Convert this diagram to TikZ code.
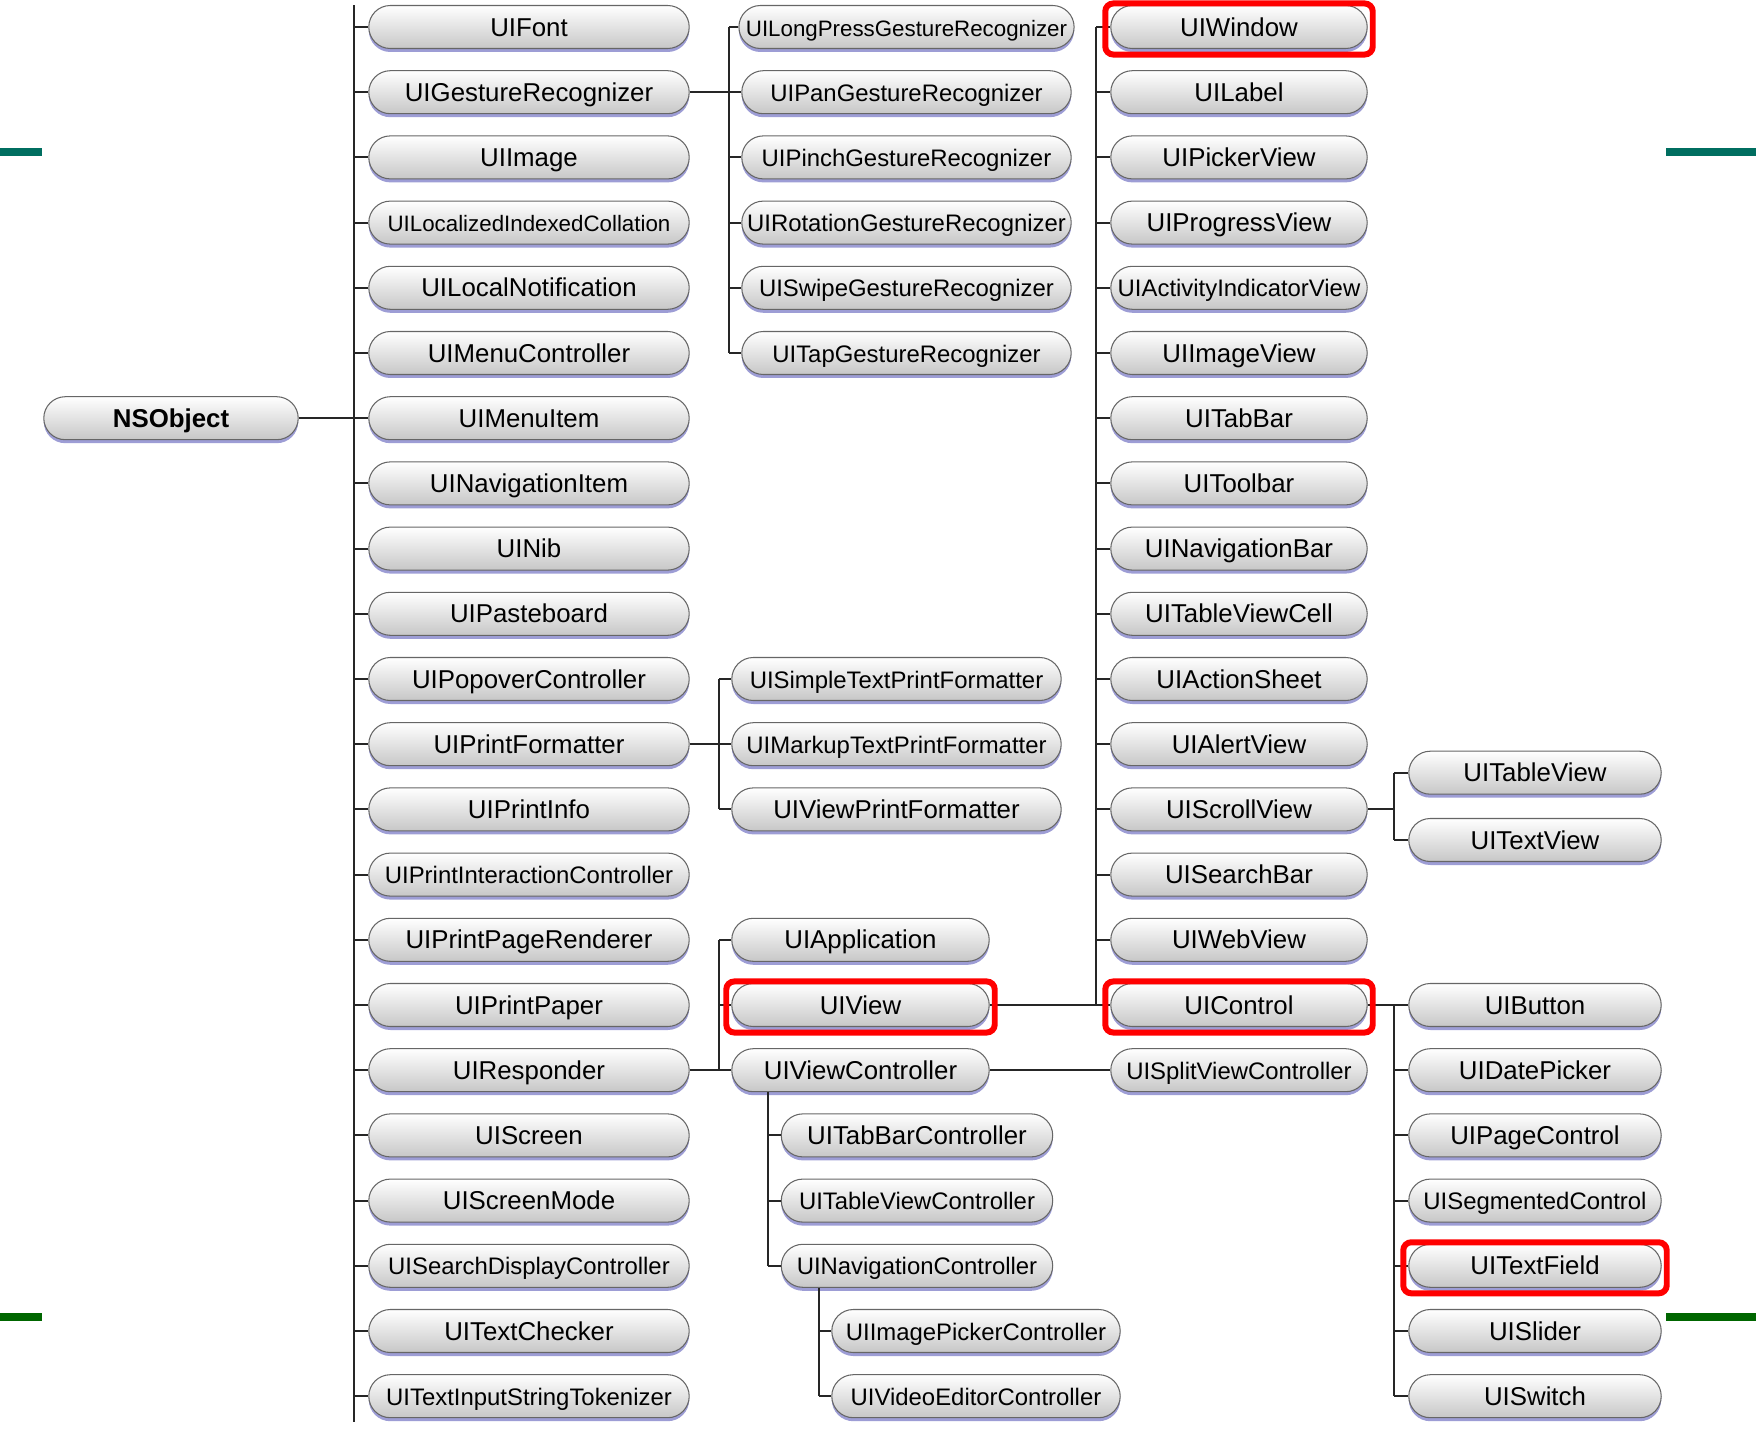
\documentclass[tikz,border=0pt]{standalone}
\usepackage{fontspec}
\setmainfont{Liberation Sans}
\usetikzlibrary{positioning, shapes.misc, shadows, fit, calc}
\definecolor{tealbar}{RGB}{0,110,96}
\definecolor{greenbar}{RGB}{0,102,0}

\begin{document}
\begin{tikzpicture}[
  x=0.02cm, y=-0.02cm,
  cls/.style={rounded rectangle, draw=black!60, line width=0.6pt,
              top color=white, bottom color=black!22,
              minimum height=0.86cm, inner sep=1pt,
              text height=13.2pt, text depth=2.8pt,
              font=\fontsize{14.7}{16}\selectfont,
              drop shadow={shadow xshift=0pt, shadow yshift=-0.07cm,
                           fill=blue!40!gray, opacity=0.55}},
  root/.style={cls, minimum width=5.16cm, font=\fontsize{14.7}{16}\selectfont\bfseries},
  colone/.style={cls, minimum width=6.48cm},
  colgest/.style={cls, minimum width=6.66cm},
  colresp/.style={cls, minimum width=5.22cm},
  colvc/.style={cls, minimum width=5.5cm},
  colnav/.style={cls, minimum width=5.84cm},
  colview/.style={cls, minimum width=5.2cm},
  colctrl/.style={cls, minimum width=5.12cm},
  smallfont/.style={font=\fontsize{13.6}{15}\selectfont},
  tinyfont/.style={font=\fontsize{12.7}{14}\selectfont},
  link/.style={line width=1.1pt, draw=black!85},
  hilite/.style={draw=red, line width=3.4pt, rounded corners=0.16cm,
                 inner xsep=0.1cm, inner ysep=0.07cm, yshift=-0.04cm},
]
\useasboundingbox (0,0) rectangle (1756,1430);

% Side marks
\fill[tealbar] (0,148) rectangle (42,156);
\fill[tealbar] (1666,148) rectangle (1756,156);
\fill[greenbar] (0,1313) rectangle (42,1321);
\fill[greenbar] (1666,1313) rectangle (1756,1321);

% Root
\node[root] (nsobject) at (171,418.2) {NSObject};

% First level
\node[colone] (uifont) at (529,27) {UIFont};
\node[colone] (uigesture) at (529,92.2) {UIGestureRecognizer};
\node[colone] (uiimage) at (529,157.4) {UIImage};
\node[colone, tinyfont] (uicollation) at (529,222.6) {UILocalizedIndexedCollation};
\node[colone] (uinotification) at (529,287.8) {UILocalNotification};
\node[colone] (uimenuctrl) at (529,353) {UIMenuController};
\node[colone] (uimenuitem) at (529,418.2) {UIMenuItem};
\node[colone] (uinavitem) at (529,483.4) {UINavigationItem};
\node[colone] (uinib) at (529,548.6) {UINib};
\node[colone] (uipasteboard) at (529,613.8) {UIPasteboard};
\node[colone] (uipopover) at (529,679) {UIPopoverController};
\node[colone] (uiprintformatter) at (529,744.2) {UIPrintFormatter};
\node[colone] (uiprintinfo) at (529,809.4) {UIPrintInfo};
\node[colone, smallfont] (uiprintinteraction) at (529,874.6) {UIPrintInteractionController};
\node[colone] (uipagerenderer) at (529,939.8) {UIPrintPageRenderer};
\node[colone] (uiprintpaper) at (529,1005) {UIPrintPaper};
\node[colone] (uiresponder) at (529,1070.2) {UIResponder};
\node[colone] (uiscreen) at (529,1135.4) {UIScreen};
\node[colone] (uiscreenmode) at (529,1200.6) {UIScreenMode};
\node[colone, smallfont] (uisearchdisplay) at (529,1265.8) {UISearchDisplayController};
\node[colone] (uitextchecker) at (529,1331) {UITextChecker};
\node[colone, smallfont] (uitokenizer) at (529,1396.2) {UITextInputStringTokenizer};

% Gesture recognizers
\node[colgest, tinyfont] (uilongpress) at (906.5,27) {UILongPressGestureRecognizer};
\node[colgest, smallfont] (uipan) at (906.5,92.2) {UIPanGestureRecognizer};
\node[colgest, smallfont] (uipinch) at (906.5,157.4) {UIPinchGestureRecognizer};
\node[colgest, smallfont] (uirotation) at (906.5,222.6) {UIRotationGestureRecognizer};
\node[colgest, smallfont] (uiswipe) at (906.5,287.8) {UISwipeGestureRecognizer};
\node[colgest, smallfont] (uitap) at (906.5,353) {UITapGestureRecognizer};

% Print formatters
\node[colgest, smallfont] (uisimpletext) at (896.5,679) {UISimpleTextPrintFormatter};
\node[colgest, smallfont] (uimarkup) at (896.5,744.2) {UIMarkupTextPrintFormatter};
\node[colgest] (uiviewprint) at (896.5,809.4) {UIViewPrintFormatter};

% Responders
\node[colresp] (uiapplication) at (860.5,939.8) {UIApplication};
\node[colresp] (uiview) at (860.5,1005) {UIView};
\node[colresp] (uivc) at (860.5,1070.2) {UIViewController};

% View controllers
\node[colvc] (uitabbarctrl) at (917,1135.4) {UITabBarController};
\node[colvc, smallfont] (uitablectrl) at (917,1200.6) {UITableViewController};
\node[colvc, smallfont] (uinavctrl) at (917,1265.8) {UINavigationController};
\node[colnav, smallfont] (uipicker) at (976,1331) {UIImagePickerController};
\node[colnav, smallfont] (uivideo) at (976,1396.2) {UIVideoEditorController};

% Views
\node[colview] (uiwindow) at (1239,27) {UIWindow};
\node[colview] (uilabel) at (1239,92.2) {UILabel};
\node[colview] (uipickerview) at (1239,157.4) {UIPickerView};
\node[colview] (uiprogress) at (1239,222.6) {UIProgressView};
\node[colview, smallfont] (uiactivity) at (1239,287.8) {UIActivityIndicatorView};
\node[colview] (uiimageview) at (1239,353) {UIImageView};
\node[colview] (uitabbar) at (1239,418.2) {UITabBar};
\node[colview] (uitoolbar) at (1239,483.4) {UIToolbar};
\node[colview] (uinavbar) at (1239,548.6) {UINavigationBar};
\node[colview] (uicell) at (1239,613.8) {UITableViewCell};
\node[colview] (uiactionsheet) at (1239,679) {UIActionSheet};
\node[colview] (uialert) at (1239,744.2) {UIAlertView};
\node[colview] (uiscroll) at (1239,809.4) {UIScrollView};
\node[colview] (uisearchbar) at (1239,874.6) {UISearchBar};
\node[colview] (uiweb) at (1239,939.8) {UIWebView};
\node[colview] (uicontrol) at (1239,1005) {UIControl};
\node[colview, smallfont] (uisplit) at (1239,1070.2) {UISplitViewController};

% Scroll views and controls
\node[colctrl] (uitableview) at (1535,772.7) {UITableView};
\node[colctrl] (uitextview) at (1535,840) {UITextView};
\node[colctrl] (uibutton) at (1535,1005) {UIButton};
\node[colctrl] (uidatepicker) at (1535,1070.2) {UIDatePicker};
\node[colctrl] (uipagectrl) at (1535,1135.4) {UIPageControl};
\node[colctrl, smallfont] (uisegmented) at (1535,1200.6) {UISegmentedControl};
\node[colctrl] (uitextfield) at (1535,1265.8) {UITextField};
\node[colctrl] (uislider) at (1535,1331) {UISlider};
\node[colctrl] (uiswitch) at (1535,1396.2) {UISwitch};

% Buses
\coordinate (trunk) at (354,5);
\coordinate (trunkend) at (354,1422);
\coordinate (gbus) at (729,0);
\coordinate (pbus) at (719,0);
\coordinate (rbus) at (719,0);
\coordinate (vbus) at (768,0);
\coordinate (nbus) at (819,0);
\coordinate (wbus) at (1096,0);
\coordinate (sbus) at (1394,0);
\coordinate (cbus) at (1394,0);

% NSObject tree
\draw[link] (nsobject.east) -- (trunk |- nsobject.east);
\draw[link] (trunk) -- (trunkend);
\foreach \c in {uifont, uigesture, uiimage, uicollation, uinotification, uimenuctrl,
                uimenuitem, uinavitem, uinib, uipasteboard, uipopover, uiprintformatter,
                uiprintinfo, uiprintinteraction, uipagerenderer, uiprintpaper, uiresponder,
                uiscreen, uiscreenmode, uisearchdisplay, uitextchecker, uitokenizer}
  \draw[link] (trunk |- \c.west) -- (\c.west);

% Gestures
\draw[link] (uigesture.east) -- (gbus |- uigesture.east);
\draw[link] (gbus |- uilongpress.west) -- (gbus |- uitap.west);
\foreach \c in {uilongpress, uipan, uipinch, uirotation, uiswipe, uitap}
  \draw[link] (gbus |- \c.west) -- (\c.west);

% Print formatters
\draw[link] (uiprintformatter.east) -- (pbus |- uiprintformatter.east);
\draw[link] (pbus |- uisimpletext.west) -- (pbus |- uiviewprint.west);
\foreach \c in {uisimpletext, uimarkup, uiviewprint}
  \draw[link] (pbus |- \c.west) -- (\c.west);

% Responders
\draw[link] (uiresponder.east) -- (rbus |- uiresponder.east);
\draw[link] (rbus |- uiapplication.west) -- (rbus |- uivc.west);
\foreach \c in {uiapplication, uiview, uivc}
  \draw[link] (rbus |- \c.west) -- (\c.west);

% View controllers
\draw[link] (uivc.east) -- (uisplit.west);
\draw[link] (vbus |- uivc.south) -- (vbus |- uinavctrl.west);
\foreach \c in {uitabbarctrl, uitablectrl, uinavctrl}
  \draw[link] (vbus |- \c.west) -- (\c.west);
\draw[link] (nbus |- uinavctrl.south) -- (nbus |- uivideo.west);
\foreach \c in {uipicker, uivideo}
  \draw[link] (nbus |- \c.west) -- (\c.west);

% Views
\draw[link] (uiview.east) -- (wbus |- uiview.east);
\draw[link] (wbus |- uiwindow.west) -- (wbus |- uicontrol.west);
\foreach \c in {uiwindow, uilabel, uipickerview, uiprogress, uiactivity, uiimageview,
                uitabbar, uitoolbar, uinavbar, uicell, uiactionsheet, uialert,
                uiscroll, uisearchbar, uiweb, uicontrol}
  \draw[link] (wbus |- \c.west) -- (\c.west);

% Scroll views
\draw[link] (uiscroll.east) -- (sbus |- uiscroll.east);
\draw[link] (sbus |- uitableview.west) -- (sbus |- uitextview.west);
\foreach \c in {uitableview, uitextview}
  \draw[link] (sbus |- \c.west) -- (\c.west);

% Controls
\draw[link] (uicontrol.east) -- (cbus |- uicontrol.east);
\draw[link] (cbus |- uibutton.west) -- (cbus |- uiswitch.west);
\foreach \c in {uibutton, uidatepicker, uipagectrl, uisegmented, uitextfield, uislider, uiswitch}
  \draw[link] (cbus |- \c.west) -- (\c.west);

% Highlights
\node[hilite, fit=(uiwindow)] {};
\node[hilite, fit=(uiview)] {};
\node[hilite, fit=(uicontrol)] {};
\node[hilite, fit=(uitextfield)] {};

\end{tikzpicture}
\end{document}
